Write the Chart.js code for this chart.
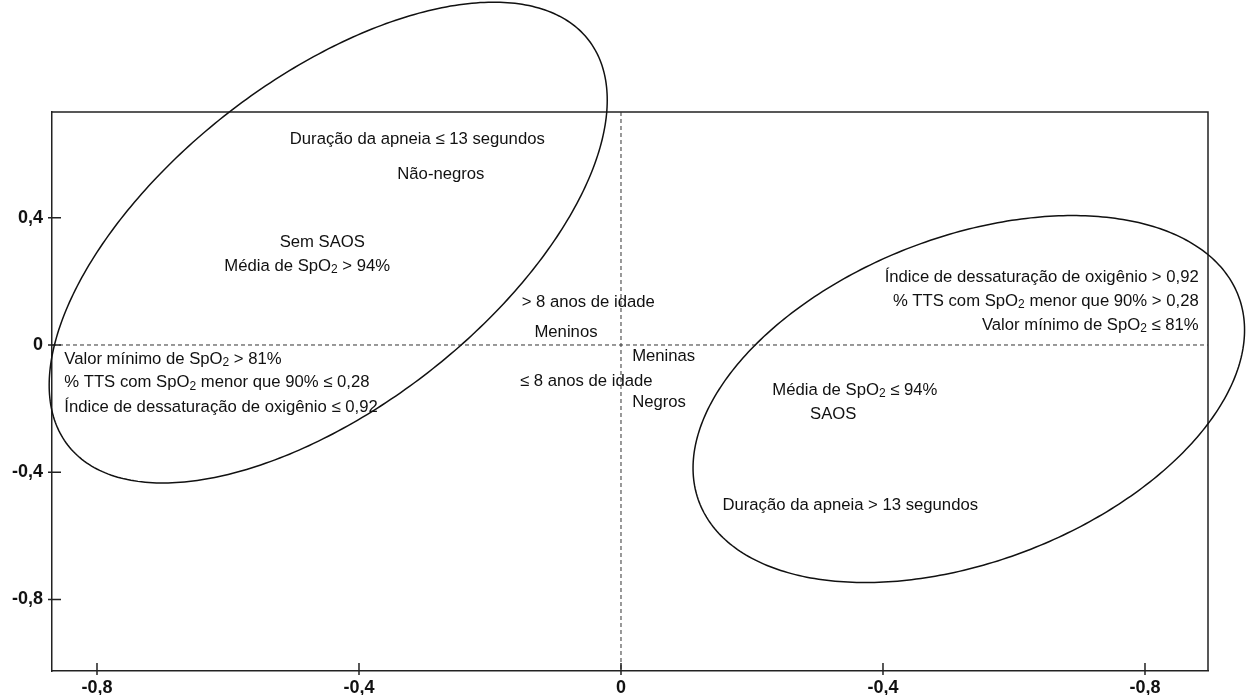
<!DOCTYPE html>
<html>
<head>
<meta charset="utf-8">
<script src="https://cdn.jsdelivr.net/npm/chart.js@4"></script>
<style>
  html, body { margin: 0; padding: 0; background: #fff; }
  #c { display: block; }
</style>
</head>
<body>
<canvas id="c" width="1246" height="695"></canvas>
<script>
// ---- Data ----
const pointLabels = [
  "Duração da apneia ≤ 13 segundos",
  "Não-negros",
  "Sem SAOS",
  "Média de SpO₂ > 94%",
  "> 8 anos de idade",
  "Meninos",
  "Meninas",
  "≤ 8 anos de idade",
  "Negros",
  "Valor mínimo de SpO₂ > 81%",
  "% TTS com SpO₂ menor que 90% ≤ 0,28",
  "Índice de dessaturação de oxigênio ≤ 0,92",
  "Índice de dessaturação de oxigênio > 0,92",
  "% TTS com SpO₂ menor que 90% > 0,28",
  "Valor mínimo de SpO₂ ≤ 81%",
  "Média de SpO₂ ≤ 94%",
  "SAOS",
  "Duração da apneia > 13 segundos"
];
const pointX = [-0.311, -0.275, -0.456, -0.479, -0.050, -0.084, 0.017, -0.053, 0.017,
                -0.850, -0.850, -0.850, 0.882, 0.882, 0.882, 0.357, 0.324, 0.350];
const pointY = [0.648, 0.535, 0.324, 0.248, 0.135, 0.041, -0.035, -0.116, -0.179,
                -0.044, -0.119, -0.195, 0.211, 0.138, 0.063, -0.142, -0.217, -0.503];
const pointAlign = ["center","center","center","center","center","center","left","center","left",
                    "left","left","left","right","right","right","center","center","center"];

// Ellipses (data units): centre, half-width in x, half-height in y, y-offset of rightmost point
const ellipseCX = [-0.447, 0.531];
const ellipseCY = [0.322, -0.170];
const ellipseHW = [0.426, 0.421];
const ellipseHH = [0.756, 0.577];
const ellipseRY = [0.448, 0.217];

const xTickValues = [-0.8, -0.4, 0, 0.4, 0.8];
const xTickLabels = ["-0,8", "-0,4", "0", "-0,4", "-0,8"];
const yTickValues = [0.4, 0, -0.4, -0.8];
const yTickLabels = ["0,4", "0", "-0,4", "-0,8"];

const X_MIN = -0.8687, X_MAX = 0.8962, Y_MIN = -1.0252, Y_MAX = 0.7327;

// ---- Rendering helpers ----
const FONT_FAMILY = '"Liberation Sans", Arial, Helvetica, sans-serif';
const TEXT_SIZE = 16.7;

function segments(text) {
  const segs = [];
  let cur = "";
  for (const ch of text) {
    if (ch === "₂") {
      if (cur) segs.push({t: cur, sub: false});
      segs.push({t: "2", sub: true});
      cur = "";
    } else cur += ch;
  }
  if (cur) segs.push({t: cur, sub: false});
  return segs;
}

function drawRich(ctx, text, x, y, align) {
  const segs = segments(text);
  const normal = TEXT_SIZE + "px " + FONT_FAMILY;
  const small = (TEXT_SIZE * 0.72).toFixed(1) + "px " + FONT_FAMILY;
  let total = 0;
  segs.forEach(s => { ctx.font = s.sub ? small : normal; s.w = ctx.measureText(s.t).width; total += s.w; });
  let sx = x;
  if (align === "center") sx = x - total / 2;
  else if (align === "right") sx = x - total;
  ctx.textAlign = "left";
  ctx.textBaseline = "middle";
  segs.forEach(s => {
    ctx.font = s.sub ? small : normal;
    ctx.fillText(s.t, sx, s.sub ? y + 4 : y);
    sx += s.w;
  });
}

const overlayPlugin = {
  id: "overlay",
  afterDraw(chart) {
    const ctx = chart.ctx;
    const xs = chart.scales.x, ys = chart.scales.y;
    const a = chart.chartArea;
    ctx.save();
    // frame top/right
    ctx.strokeStyle = "#222";
    ctx.lineWidth = 1.5;
    ctx.beginPath();
    ctx.moveTo(a.left, a.top); ctx.lineTo(a.right, a.top); ctx.lineTo(a.right, a.bottom);
    ctx.stroke();
    // dashed zero lines
    ctx.lineWidth = 1;
    ctx.strokeStyle = "#333";
    ctx.setLineDash([4, 3]);
    const x0 = xs.getPixelForValue(0), y0 = ys.getPixelForValue(0);
    ctx.beginPath();
    ctx.moveTo(x0, a.top); ctx.lineTo(x0, a.bottom);
    ctx.moveTo(a.left, y0); ctx.lineTo(a.right, y0);
    ctx.stroke();
    ctx.setLineDash([]);
    // ticks crossing the axes
    ctx.strokeStyle = "#222";
    ctx.lineWidth = 1.5;
    ctx.beginPath();
    xTickValues.forEach(v => {
      const px = xs.getPixelForValue(v);
      ctx.moveTo(px, a.bottom - 8); ctx.lineTo(px, a.bottom + 4);
    });
    yTickValues.forEach(v => {
      const py = ys.getPixelForValue(v);
      ctx.moveTo(a.left - 4, py); ctx.lineTo(a.left + 9, py);
    });
    ctx.stroke();
    // ellipses through the scales (affine map of a unit circle)
    ctx.strokeStyle = "#111";
    ctx.lineWidth = 1.5;
    for (let i = 0; i < ellipseCX.length; i++) {
      const cx = ellipseCX[i], cy = ellipseCY[i];
      const ux = ellipseHW[i], uy = ellipseRY[i];
      const vx = 0, vy = Math.sqrt(ellipseHH[i] * ellipseHH[i] - uy * uy);
      ctx.beginPath();
      const N = 360;
      for (let k = 0; k <= N; k++) {
        const t = (k / N) * Math.PI * 2;
        const dx = cx + ux * Math.cos(t) + vx * Math.sin(t);
        const dy = cy + uy * Math.cos(t) + vy * Math.sin(t);
        const px = xs.getPixelForValue(dx), py = ys.getPixelForValue(dy);
        if (k === 0) ctx.moveTo(px, py); else ctx.lineTo(px, py);
      }
      ctx.closePath();
      ctx.stroke();
    }
    // labels at point positions
    ctx.fillStyle = "#111";
    const meta = chart.getDatasetMeta(0);
    meta.data.forEach((el, i) => {
      drawRich(ctx, pointLabels[i], el.x, el.y, pointAlign[i]);
    });
    ctx.restore();
  }
};

new Chart(document.getElementById("c"), {
  type: "scatter",
  data: {
    datasets: [{
      data: pointX.map((x, i) => ({x: x, y: pointY[i]})),
      pointRadius: 0,
      pointHoverRadius: 0
    }]
  },
  options: {
    responsive: false,
    animation: false,
    events: [],
    layout: { padding: { top: 112, right: 38, left: 0, bottom: 0 } },
    plugins: { legend: { display: false }, tooltip: { enabled: false } },
    scales: {
      x: {
        type: "linear",
        min: X_MIN, max: X_MAX,
        afterBuildTicks: s => { s.ticks = xTickValues.map(v => ({value: v})); },
        afterFit: s => { s.height = 24; },
        grid: { display: false, drawTicks: false, tickLength: 0 },
        border: { display: true, color: "#222", width: 1.5 },
        ticks: {
          padding: 6,
          color: "#111",
          font: { family: FONT_FAMILY, size: 18, weight: "bold" },
          maxRotation: 0,
          autoSkip: false,
          callback: v => { const i = xTickValues.findIndex(t => Math.abs(t - v) < 1e-9); return i >= 0 ? xTickLabels[i] : ""; }
        }
      },
      y: {
        type: "linear",
        min: Y_MIN, max: Y_MAX,
        afterBuildTicks: s => { s.ticks = yTickValues.map(v => ({value: v})); },
        afterFit: s => { s.width = 52; },
        grid: { display: false, drawTicks: false, tickLength: 0 },
        border: { display: true, color: "#222", width: 1.5 },
        ticks: {
          padding: 9,
          color: "#111",
          font: { family: FONT_FAMILY, size: 18, weight: "bold" },
          autoSkip: false,
          callback: v => { const i = yTickValues.findIndex(t => Math.abs(t - v) < 1e-9); return i >= 0 ? yTickLabels[i] : ""; }
        }
      }
    }
  },
  plugins: [overlayPlugin]
});
</script>
</body>
</html>
